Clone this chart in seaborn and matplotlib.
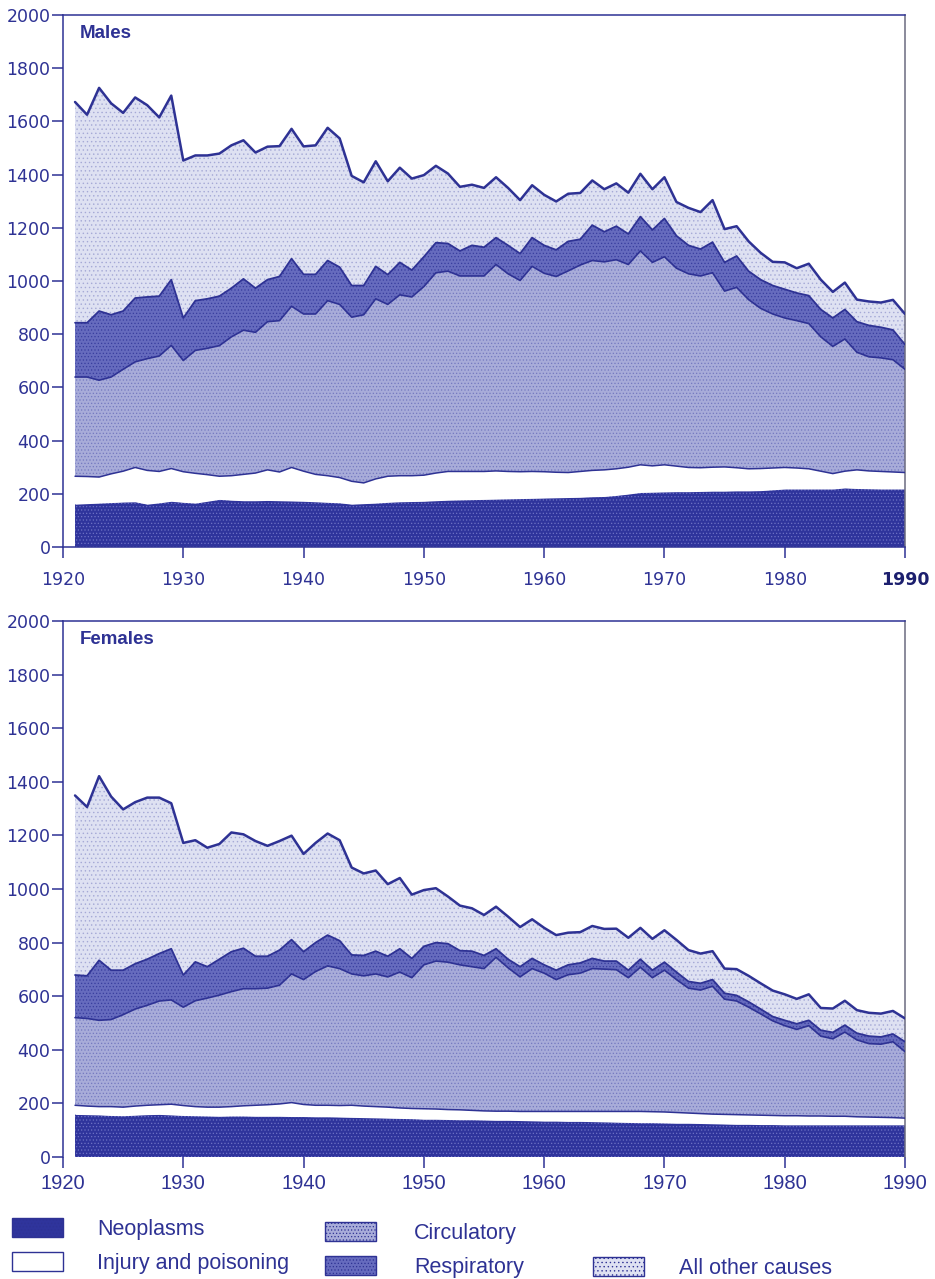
import numpy as np
import matplotlib
matplotlib.use('Agg')
import matplotlib.pyplot as plt
from matplotlib.patches import Patch
import seaborn as sns

sns.set_theme(style='white')
plt.rcParams['font.family'] = ['DejaVu Sans']
plt.rcParams['hatch.linewidth'] = 0.5

# ----------------------------------------------
# data: upper edge of each stacked band, deaths per 100 000, 1921-1990
# ----------------------------------------------

years = list(range(1921, 1991))

male_neoplasms_top = [161, 163, 165, 167, 169, 170, 161, 166, 172, 168,
                      165, 172, 179, 176, 174, 174, 175, 174, 173, 172,
                      170, 168, 166, 161, 163, 165, 168, 170, 171, 172,
                      174, 176, 177, 178, 179, 180, 181, 182, 183, 184,
                      185, 186, 187, 189, 190, 194, 199, 205, 206, 207,
                      208, 208, 209, 210, 210, 211, 211, 212, 215, 218,
                      218, 218, 218, 218, 222, 220, 219, 218, 218, 218]
male_injury_top = [266, 265, 263, 275, 285, 299, 288, 284, 295, 283,
                   277, 272, 266, 268, 273, 278, 290, 282, 299, 285,
                   273, 268, 261, 247, 241, 256, 266, 268, 268, 270,
                   278, 284, 284, 284, 284, 286, 284, 283, 284, 283,
                   281, 280, 284, 288, 290, 294, 300, 309, 305, 309,
                   304, 299, 298, 300, 301, 298, 294, 295, 297, 299,
                   297, 294, 285, 276, 285, 290, 286, 284, 282, 280]
male_circulatory_top = [639, 639, 627, 639, 668, 696, 708, 718, 758, 701,
                        739, 747, 757, 790, 815, 807, 847, 851, 905, 876,
                        876, 926, 912, 864, 873, 933, 912, 948, 940, 979,
                        1031, 1037, 1019, 1019, 1019, 1062, 1027, 1002, 1055, 1029,
                        1017, 1038, 1060, 1077, 1072, 1080, 1062, 1113, 1070, 1091,
                        1048, 1027, 1019, 1031, 962, 976, 930, 897, 876, 861,
                        851, 840, 790, 754, 782, 732, 715, 711, 704, 668]
male_respiratory_top = [843, 843, 887, 873, 887, 936, 940, 943, 1005, 861,
                        926, 933, 943, 973, 1008, 973, 1005, 1017, 1084, 1025,
                        1025, 1077, 1052, 983, 983, 1055, 1024, 1070, 1041, 1091,
                        1144, 1141, 1113, 1134, 1127, 1163, 1134, 1103, 1163, 1134,
                        1117, 1149, 1157, 1210, 1185, 1206, 1177, 1242, 1192, 1235,
                        1170, 1134, 1120, 1146, 1070, 1094, 1037, 1005, 983, 969,
                        955, 945, 893, 861, 893, 847, 833, 826, 816, 761]
male_total = [1673, 1625, 1726, 1668, 1632, 1690, 1661, 1615, 1697, 1453,
              1472, 1472, 1479, 1510, 1529, 1483, 1505, 1507, 1572, 1506,
              1510, 1576, 1536, 1395, 1371, 1450, 1375, 1426, 1385, 1398,
              1433, 1404, 1354, 1362, 1350, 1390, 1350, 1304, 1360, 1324,
              1299, 1328, 1331, 1378, 1345, 1367, 1332, 1403, 1345, 1390,
              1297, 1275, 1259, 1304, 1195, 1206, 1149, 1106, 1072, 1070,
              1048, 1065, 1005, 959, 994, 930, 923, 919, 929, 876]

female_neoplasms_top = [159, 158, 157, 155, 154, 156, 158, 159, 157, 155,
                        154, 153, 152, 153, 153, 152, 152, 152, 151, 151,
                        150, 150, 149, 148, 147, 146, 145, 144, 143, 141,
                        141, 140, 139, 139, 138, 137, 137, 136, 135, 134,
                        134, 133, 133, 132, 131, 130, 129, 128, 128, 127,
                        126, 126, 125, 124, 123, 122, 122, 121, 121, 120,
                        120, 120, 120, 120, 120, 120, 120, 120, 120, 120]
female_injury_top = [193, 190, 188, 188, 186, 190, 193, 195, 197, 192,
                     188, 186, 186, 188, 191, 193, 195, 198, 203, 196,
                     193, 193, 192, 193, 190, 188, 186, 183, 181, 180,
                     179, 177, 176, 174, 172, 171, 171, 170, 170, 170,
                     170, 170, 170, 170, 170, 170, 170, 170, 169, 168,
                     166, 164, 162, 160, 159, 158, 157, 156, 155, 154,
                     154, 153, 153, 152, 152, 150, 149, 148, 147, 145]
female_circulatory_top = [520, 517, 510, 513, 531, 552, 566, 582, 586, 559,
                          583, 593, 604, 617, 628, 628, 630, 641, 683, 662,
                          692, 713, 703, 683, 676, 683, 672, 690, 669, 717,
                          731, 727, 717, 710, 703, 745, 706, 672, 703, 686,
                          662, 680, 686, 703, 701, 699, 669, 708, 669, 697,
                          662, 630, 623, 637, 589, 582, 559, 534, 508, 490,
                          476, 490, 451, 441, 466, 437, 423, 421, 430, 393]
female_respiratory_top = [679, 676, 734, 697, 697, 721, 738, 759, 777, 679,
                          728, 710, 738, 766, 779, 749, 749, 772, 811, 766,
                          800, 828, 807, 754, 752, 768, 749, 777, 741, 786,
                          800, 796, 770, 768, 752, 777, 738, 710, 741, 717,
                          697, 717, 724, 741, 731, 731, 697, 738, 697, 727,
                          690, 655, 648, 662, 611, 603, 579, 552, 524, 510,
                          497, 510, 473, 465, 492, 462, 451, 448, 459, 430]
female_total = [1349, 1306, 1421, 1345, 1297, 1324, 1341, 1341, 1320, 1172,
                1182, 1154, 1168, 1211, 1204, 1179, 1161, 1179, 1199, 1131,
                1172, 1207, 1182, 1080, 1058, 1069, 1018, 1041, 979, 996,
                1003, 972, 938, 928, 903, 934, 897, 858, 887, 855,
                828, 837, 839, 862, 851, 852, 818, 855, 814, 846,
                810, 772, 759, 768, 703, 701, 676, 648, 621, 607,
                590, 607, 556, 554, 583, 548, 538, 535, 545, 517]

causes = ['Neoplasms', 'Injury and poisoning', 'Circulatory', 'Respiratory', 'All other causes']
x_ticks = [1920, 1930, 1940, 1950, 1960, 1970, 1980, 1990]
y_ticks = [0, 200, 400, 600, 800, 1000, 1200, 1400, 1600, 1800, 2000]

# ----------------------------------------------
# styles
# ----------------------------------------------

navy = '#2e3294'
face = {'Neoplasms': '#2f349c', 'Injury and poisoning': '#ffffff',
        'Circulatory': '#a8acd9', 'Respiratory': '#666bbe', 'All other causes': '#dee1f2'}
dots = {'Neoplasms': '#6d71c4', 'Injury and poisoning': '#ffffff',
        'Circulatory': '#7479c0', 'Respiratory': '#383d9f', 'All other causes': '#a5a9d6'}
hatch = {'Neoplasms': '.....', 'Injury and poisoning': None,
         'Circulatory': '.....', 'Respiratory': '.....', 'All other causes': '....'}

W, H = 935, 1279
fig = plt.figure(figsize=(W / 100, H / 100), dpi=100)
fig.patch.set_facecolor('white')


def panel(top_px, bottom_px):
    return fig.add_axes([63 / W, 1 - bottom_px / H, 842 / W, (bottom_px - top_px) / H])


def draw_panel(ax, title, edges, female=False):
    lower = np.zeros(len(years))
    for cause, upper in zip(causes, edges):
        ax.fill_between(years, lower, upper, facecolor=face[cause], edgecolor=dots[cause],
                        hatch=hatch[cause], linewidth=0, zorder=1)
        lower = np.asarray(upper)
    for upper, lw in zip(edges[1:], [1.1, 1.2, 1.3, 1.8]):
        sns.lineplot(x=years, y=upper, ax=ax, color=navy, lw=lw, zorder=3)

    ax.set_xlim(1920, 1990)
    ax.set_ylim(0, 2000)
    ax.set_xticks(x_ticks)
    ax.set_yticks(y_ticks)
    ax.set_facecolor('white')
    for side in ['left', 'top', 'right', 'bottom']:
        ax.spines[side].set_color(navy)
        ax.spines[side].set_linewidth(1.1)
    ax.spines['right'].set_color('#6b6b80')
    if female:
        ax.spines['bottom'].set_visible(False)
    ax.tick_params(axis='y', direction='out', length=8, width=1.1, color=navy,
                   labelcolor=navy, labelsize=12.5, pad=1, left=True)
    ax.tick_params(axis='x', direction='out', length=8, width=1.1, color=navy,
                   labelcolor=navy, bottom=True, pad=4 if female else 9)
    for lab in ax.get_xticklabels():
        if female:
            lab.set_family('Liberation Sans')
            lab.set_fontsize(14.5)
        else:
            lab.set_fontsize(12.5)
    if not female:
        last = ax.get_xticklabels()[-1]
        last.set_fontweight('bold')
        last.set_color('#1c1f6e')
    ax.text(0.02, 0.982, title, transform=ax.transAxes, ha='left', va='top',
            fontsize=13.5, fontweight='bold', color=navy, family='Liberation Sans')
    ax.set_xlabel('')
    ax.set_ylabel('')


ax_m = panel(15, 547)
draw_panel(ax_m, 'Males', [male_neoplasms_top, male_injury_top, male_circulatory_top,
                           male_respiratory_top, male_total])
ax_f = panel(621, 1157)
draw_panel(ax_f, 'Females', [female_neoplasms_top, female_injury_top, female_circulatory_top,
                             female_respiratory_top, female_total], female=True)

# ----------------------------------------------
# legend, three blocks
# ----------------------------------------------

legend_font = {'family': ['Liberation Sans Narrow', 'Liberation Sans'], 'size': 15.5}


def handle(cause):
    return Patch(facecolor=face[cause], edgecolor=navy, hatch=hatch[cause], linewidth=1.0, label=cause)


blocks = [(causes[:2], 12, 1218, 1.6), (causes[2:4], 325, 1222, 1.8), (causes[4:], 593, 1257, 1.65)]
for names, x_px, y_px, pad in blocks:
    leg = fig.legend(handles=[handle(c) for c in names], loc='upper left',
                     bbox_to_anchor=(x_px / W, 1 - y_px / H), bbox_transform=fig.transFigure,
                     frameon=False, prop=legend_font, handlelength=2.35, handleheight=0.95,
                     handletextpad=pad, labelspacing=0.58, borderpad=0, borderaxespad=0)
    for t in leg.get_texts():
        t.set_color(navy)

fig.savefig('out.png', dpi=100, facecolor='white')
